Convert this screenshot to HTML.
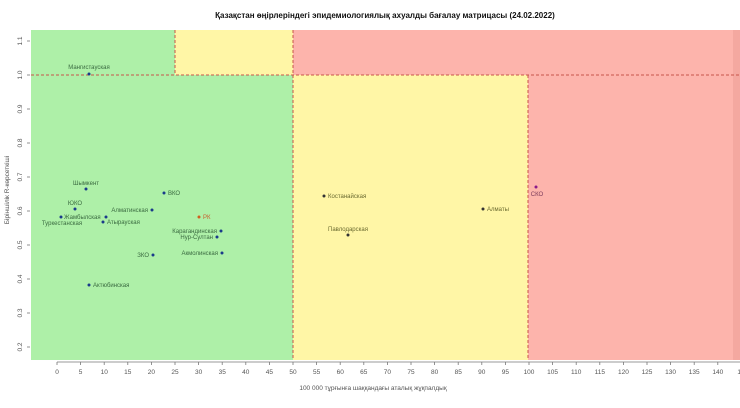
<!DOCTYPE html>
<html><head><meta charset="utf-8"><style>
html,body{margin:0;padding:0;background:#fff;}
svg{display:block;font-family:"Liberation Sans",sans-serif;}
</style></head><body>
<svg width="740" height="408" viewBox="0 0 740 408" xmlns="http://www.w3.org/2000/svg">
<rect width="740" height="408" fill="#fff"/>
<text x="385" y="18" font-size="8" font-weight="bold" text-anchor="middle" fill="#111">Қазақстан өңірлеріндегі эпидемиологиялық ахуалды бағалау матрицасы  (24.02.2022)</text>
<!-- regions -->
<rect x="31" y="30" width="262" height="330" fill="#aef0a8"/>
<rect x="175" y="30" width="118" height="45" fill="#fff6a6"/>
<rect x="293" y="30" width="447" height="45" fill="#fdb4ac"/>
<rect x="293" y="75" width="235" height="285" fill="#fff6a6"/>
<rect x="528" y="75" width="212" height="285" fill="#fdb4ac"/>
<rect x="733" y="30" width="7" height="330" fill="#f4a8a0"/>
<g stroke="#c8544a" stroke-width="1" stroke-dasharray="3,2" fill="none">
<line x1="31" y1="75" x2="740" y2="75"/>
<line x1="175" y1="30" x2="175" y2="75"/>
<line x1="293" y1="30" x2="293" y2="360"/>
<line x1="528" y1="75" x2="528" y2="360"/>
</g>
<!-- x axis -->
<g stroke="#777" stroke-width="0.8">
<line x1="57" y1="362" x2="740" y2="362"/>
</g>
<g font-size="6.5" fill="#555" text-anchor="middle">
<script>/* none */</script>
</g>
<g id="xt" stroke="#777" stroke-width="0.8"></g>
<g font-size="6.5" fill="#555" text-anchor="middle">
<text x="57" y="374">0</text><text x="80.6" y="374">5</text><text x="104.2" y="374">10</text><text x="127.8" y="374">15</text><text x="151.4" y="374">20</text><text x="175" y="374">25</text><text x="198.6" y="374">30</text><text x="222.2" y="374">35</text><text x="245.8" y="374">40</text><text x="269.4" y="374">45</text><text x="293" y="374">50</text><text x="316.6" y="374">55</text><text x="340.2" y="374">60</text><text x="363.8" y="374">65</text><text x="387.4" y="374">70</text><text x="411" y="374">75</text><text x="434.6" y="374">80</text><text x="458.2" y="374">85</text><text x="481.8" y="374">90</text><text x="505.4" y="374">95</text><text x="529" y="374">100</text><text x="552.6" y="374">105</text><text x="576.2" y="374">110</text><text x="599.8" y="374">115</text><text x="623.4" y="374">120</text><text x="647" y="374">125</text><text x="670.6" y="374">130</text><text x="694.2" y="374">135</text><text x="717.8" y="374">140</text><text x="741" y="374">14</text>
</g>
<g stroke="#777" stroke-width="0.8">
<line x1="57" y1="362" x2="57" y2="365"/><line x1="80.6" y1="362" x2="80.6" y2="365"/><line x1="104.2" y1="362" x2="104.2" y2="365"/><line x1="127.8" y1="362" x2="127.8" y2="365"/><line x1="151.4" y1="362" x2="151.4" y2="365"/><line x1="175" y1="362" x2="175" y2="365"/><line x1="198.6" y1="362" x2="198.6" y2="365"/><line x1="222.2" y1="362" x2="222.2" y2="365"/><line x1="245.8" y1="362" x2="245.8" y2="365"/><line x1="269.4" y1="362" x2="269.4" y2="365"/><line x1="293" y1="362" x2="293" y2="365"/><line x1="316.6" y1="362" x2="316.6" y2="365"/><line x1="340.2" y1="362" x2="340.2" y2="365"/><line x1="363.8" y1="362" x2="363.8" y2="365"/><line x1="387.4" y1="362" x2="387.4" y2="365"/><line x1="411" y1="362" x2="411" y2="365"/><line x1="434.6" y1="362" x2="434.6" y2="365"/><line x1="458.2" y1="362" x2="458.2" y2="365"/><line x1="481.8" y1="362" x2="481.8" y2="365"/><line x1="505.4" y1="362" x2="505.4" y2="365"/><line x1="529" y1="362" x2="529" y2="365"/><line x1="552.6" y1="362" x2="552.6" y2="365"/><line x1="576.2" y1="362" x2="576.2" y2="365"/><line x1="599.8" y1="362" x2="599.8" y2="365"/><line x1="623.4" y1="362" x2="623.4" y2="365"/><line x1="647" y1="362" x2="647" y2="365"/><line x1="670.6" y1="362" x2="670.6" y2="365"/><line x1="694.2" y1="362" x2="694.2" y2="365"/><line x1="717.8" y1="362" x2="717.8" y2="365"/>
</g>
<text x="373" y="390" font-size="6.5" fill="#555" text-anchor="middle">100 000 тұрғынға шаққандағы аталық жұқпалдық</text>
<!-- y axis ticks -->
<g stroke="#777" stroke-width="0.8">
<line x1="27" y1="41" x2="30" y2="41"/><line x1="27" y1="75" x2="30" y2="75"/><line x1="27" y1="109" x2="30" y2="109"/><line x1="27" y1="143" x2="30" y2="143"/><line x1="27" y1="177" x2="30" y2="177"/><line x1="27" y1="211" x2="30" y2="211"/><line x1="27" y1="245" x2="30" y2="245"/><line x1="27" y1="279" x2="30" y2="279"/><line x1="27" y1="313" x2="30" y2="313"/><line x1="27" y1="347" x2="30" y2="347"/>
</g>
<g font-size="6.5" fill="#555" text-anchor="middle">
<text transform="translate(22,41) rotate(-90)">1.1</text>
<text transform="translate(22,75) rotate(-90)">1.0</text>
<text transform="translate(22,109) rotate(-90)">0.9</text>
<text transform="translate(22,143) rotate(-90)">0.8</text>
<text transform="translate(22,177) rotate(-90)">0.7</text>
<text transform="translate(22,211) rotate(-90)">0.6</text>
<text transform="translate(22,245) rotate(-90)">0.5</text>
<text transform="translate(22,279) rotate(-90)">0.4</text>
<text transform="translate(22,313) rotate(-90)">0.3</text>
<text transform="translate(22,347) rotate(-90)">0.2</text>
<text transform="translate(9,190) rotate(-90)">Біріншілік R-көрсеткіші</text>
</g>
<!-- points -->
<g font-size="6" fill="#3a6a40">
<circle cx="89" cy="74" r="1.5" fill="#1a3a8a"/><text x="89" y="69" text-anchor="middle">Мангистауская</text>
<circle cx="86" cy="189" r="1.5" fill="#1a3a8a"/><text x="86" y="185" text-anchor="middle">Шымкент</text>
<circle cx="164" cy="193" r="1.5" fill="#1a3a8a"/><text x="168" y="195">ВКО</text>
<circle cx="75" cy="209" r="1.5" fill="#1a3a8a"/><text x="75" y="205" text-anchor="middle">ЮКО</text>
<circle cx="61" cy="217" r="1.5" fill="#1a3a8a"/><text x="64" y="219">Жамбылская</text>
<text x="62" y="225" text-anchor="middle">Туркестанская</text>
<circle cx="106" cy="217" r="1.5" fill="#1a3a8a"/>
<circle cx="152" cy="210" r="1.5" fill="#1a3a8a"/><text x="148" y="212" text-anchor="end">Алматинская</text>
<circle cx="103" cy="222" r="1.5" fill="#1a3a8a"/><text x="107" y="224">Атырауская</text>
<circle cx="199" cy="217" r="1.5" fill="#d06020"/><text x="203" y="219" fill="#c86030">РК</text>
<circle cx="221" cy="231" r="1.5" fill="#1a3a8a"/><text x="217" y="233" text-anchor="end">Карагандинская</text>
<circle cx="217" cy="237" r="1.5" fill="#1a3a8a"/><text x="213" y="239" text-anchor="end">Нур-Султан</text>
<circle cx="153" cy="255" r="1.5" fill="#1a3a8a"/><text x="149" y="257" text-anchor="end">ЗКО</text>
<circle cx="222" cy="253" r="1.5" fill="#1a3a8a"/><text x="218" y="255" text-anchor="end">Акмолинская</text>
<circle cx="89" cy="285" r="1.5" fill="#1a3a8a"/><text x="93" y="287">Актюбинская</text>
</g>
<g font-size="6" fill="#6a6a30">
<circle cx="324" cy="196" r="1.5" fill="#333"/><text x="328" y="198">Костанайская</text>
<circle cx="483" cy="209" r="1.5" fill="#333"/><text x="487" y="211">Алматы</text>
<circle cx="348" cy="235" r="1.5" fill="#333"/><text x="348" y="231" text-anchor="middle">Павлодарская</text>
<circle cx="536" cy="187" r="1.5" fill="#8a1a8a"/><text x="537" y="196" text-anchor="middle" fill="#7a3a5a">СКО</text>
</g>
</svg>
</body></html>
